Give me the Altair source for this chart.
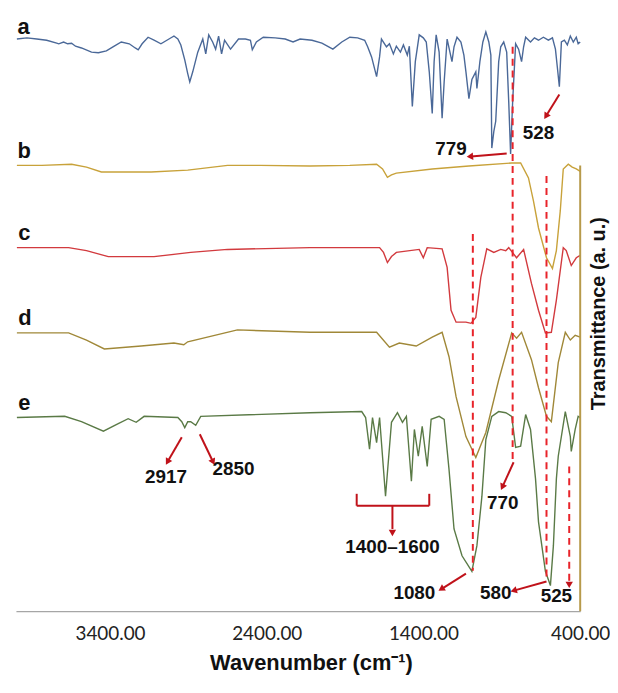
import altair as alt
import pandas as pd

SERIES = ["a", "b", "c", "d", "e"]
COLORS = ["#4A6898", "#C8A23A", "#D23A3E", "#A08838", "#5A7A46"]

# Spectrum a
wn_a = [3994, 3930, 3867, 3804, 3740, 3727, 3696, 3670, 3645, 3620, 3582, 3518, 3474, 3423, 3373, 3328,
        3277, 3239, 3220, 3195, 3157, 3119, 3075, 3037, 3005, 2992, 2967, 2948, 2923, 2904, 2891, 2872,
        2840, 2808, 2789, 2770, 2745, 2726, 2707, 2688, 2669, 2631, 2580, 2536, 2504, 2492, 2466, 2422,
        2346, 2282, 2232, 2187, 2111, 2048, 1978, 1921, 1870, 1820, 1775, 1756, 1731, 1699, 1680, 1668,
        1636, 1617, 1592, 1573, 1547, 1528, 1503, 1490, 1471, 1452, 1427, 1401, 1382, 1363, 1344, 1332,
        1319, 1300, 1281, 1268, 1249, 1218, 1205, 1186, 1161, 1142, 1129, 1110, 1091, 1066, 1059, 1040,
        1021, 1002, 983, 970, 964, 951, 939, 920, 907, 888, 869, 856, 844, 831, 812, 793, 774, 761, 748,
        717, 692, 666, 635, 603, 577, 558, 546, 533, 520, 501, 482, 463, 444, 425, 413, 400]
tr_a = [96.0, 96.2, 96.0, 95.8, 95.3, 95.2, 95.5, 95.2, 95.3, 94.8, 94.5, 93.8, 93.7, 94.0, 94.8, 95.5,
        95.2, 94.5, 94.2, 95.2, 96.3, 95.8, 95.2, 95.8, 96.3, 96.5, 96.0, 95.0, 92.5, 90.2, 88.8, 90.5,
        93.8, 96.0, 93.5, 96.7, 95.5, 94.3, 96.5, 93.5, 95.8, 94.3, 96.0, 96.0, 95.8, 94.2, 95.5, 96.3,
        96.2, 96.0, 95.5, 96.0, 95.8, 95.3, 94.3, 95.5, 96.3, 96.2, 95.8, 94.7, 93.0, 89.7, 93.0, 96.0,
        94.7, 95.2, 93.5, 94.8, 93.8, 95.0, 93.3, 94.8, 84.7, 92.2, 96.7, 96.2, 95.5, 90.5, 83.5, 92.2,
        96.7, 93.8, 82.7, 88.8, 96.0, 92.2, 94.7, 96.3, 95.5, 93.3, 90.5, 86.0, 89.2, 90.5, 87.7, 92.2,
        95.5, 97.2, 95.5, 93.3, 77.7, 80.5, 82.2, 92.2, 94.7, 95.5, 93.8, 85.5, 76.7, 85.5, 95.2, 94.3,
        92.2, 94.7, 96.3, 95.5, 96.2, 95.8, 96.3, 95.8, 96.2, 94.3, 91.3, 88.0, 95.5, 95.8, 95.0, 96.5,
        95.5, 96.3, 95.2, 95.5]

# Spectrum b
wn_b = [3994, 3835, 3645, 3550, 3455, 3138, 2904, 2650, 2441, 2124, 1870, 1699, 1661, 1630, 1604, 1573,
        1344, 1110, 837, 780, 730, 698, 666, 615, 577, 552, 527, 508, 476, 451, 425, 400]
tr_b = [74.8, 74.8, 75.0, 74.5, 73.7, 73.7, 74.0, 74.8, 74.8, 74.7, 74.8, 75.0, 74.2, 72.8, 73.2, 73.5,
        74.2, 74.7, 75.2, 75.2, 72.7, 68.8, 64.3, 59.3, 57.5, 60.5, 67.2, 74.2, 75.0, 74.5, 74.2, 73.8]

# Spectrum c
wn_c = [3994, 3664, 3550, 3411, 3119, 2885, 2650, 2124, 1680, 1655, 1630, 1604, 1573, 1427, 1401, 1376,
        1281, 1249, 1224, 1192, 1129, 1097, 1066, 1034, 996, 951, 907, 875, 856, 806, 761, 711, 666, 622,
        584, 552, 508, 489, 457, 425, 400]
tr_c = [61.0, 61.0, 60.5, 59.5, 59.5, 60.2, 60.7, 61.0, 61.0, 60.2, 58.5, 59.5, 60.2, 60.7, 59.3, 61.0,
        60.8, 57.7, 50.5, 48.5, 48.5, 48.3, 49.3, 56.0, 60.8, 60.2, 60.7, 60.5, 61.0, 59.3, 60.7, 55.0,
        50.5, 46.7, 46.8, 52.2, 61.0, 60.5, 58.0, 59.3, 59.7]

# Spectrum d
wn_d = [3994, 3664, 3550, 3436, 3201, 2992, 2929, 2904, 2587, 2124, 1699, 1617, 1554, 1446, 1344, 1281,
        1237, 1192, 1129, 1066, 1002, 920, 837, 806, 774, 711, 666, 615, 584, 540, 495, 463, 432, 400]
tr_d = [46.7, 46.7, 45.5, 44.0, 44.5, 45.0, 44.7, 45.2, 47.2, 46.8, 46.8, 44.3, 45.0, 44.5, 46.0, 46.8,
        42.7, 36.0, 29.3, 25.8, 30.0, 38.8, 46.7, 45.8, 46.8, 42.2, 37.5, 32.7, 31.8, 41.7, 46.8, 45.5,
        46.3, 46.0]

# Spectrum e
wn_e = [3994, 3689, 3582, 3442, 3360, 3284, 3233, 3182, 2967, 2942, 2923, 2904, 2885, 2853, 2821, 2124,
        1794, 1769, 1744, 1725, 1699, 1680, 1642, 1604, 1566, 1534, 1509, 1477, 1458, 1433, 1408, 1376,
        1351, 1300, 1268, 1237, 1205, 1154, 1091, 1059, 1027, 1002, 964, 920, 875, 837, 812, 780, 748,
        717, 685, 666, 622, 590, 571, 552, 540, 495, 463, 457, 432, 413, 400]
tr_e = [32.5, 32.7, 31.8, 30.2, 31.3, 32.3, 31.7, 32.7, 32.5, 31.8, 30.8, 31.8, 31.8, 31.2, 32.7, 33.3,
        33.5, 32.5, 27.2, 32.5, 28.3, 32.5, 19.3, 31.7, 33.3, 31.7, 32.7, 21.8, 30.5, 26.0, 31.0, 24.3,
        32.2, 32.7, 32.2, 23.8, 13.8, 9.3, 6.7, 11.0, 19.3, 28.8, 32.7, 33.5, 33.3, 32.7, 27.5, 27.7,
        33.0, 30.5, 22.2, 15.0, 6.7, 4.3, 11.0, 22.2, 26.0, 33.5, 29.3, 26.8, 30.5, 32.7, 32.5]

# Dashed guide lines
dash_w = [831, 1085, 615, 470]
dash_top = [94.7, 63.3, 73.0, 24.3]
dash_bottom = [25.0, 6.8, 5.5, 5.0]

# Arrow shafts and bracket segments
seg_w1 = [869, 533, 2942, 2827, 825, 1129, 615, 1826, 1826, 1363, 1598]
seg_v1 = [76.8, 86.7, 29.2, 29.7, 25.0, 6.3, 5.0, 17.7, 19.7, 19.7, 17.7]
seg_w2 = [1097, 615, 3030, 2745, 894, 1281, 818, 1363, 1826, 1363, 1598]
seg_v2 = [76.3, 83.2, 25.2, 25.2, 21.0, 3.8, 3.5, 17.7, 17.7, 17.7, 13.8]

# Arrow heads
head_w = [1097, 615, 3030, 2745, 894, 1281, 818, 1598, 470]
head_v = [76.3, 83.2, 25.2, 25.2, 21.0, 3.8, 3.5, 13.3, 4.6]
head_angle = [265, 212, 210, 154, 205, 238, 254, 180, 180]

# Peak labels
lab_text = ["779", "528", "2917", "2850", "1400\u20131600", "770", "1080", "580", "525"]
lab_w = [1224, 666, 3043, 2612, 1598, 894, 1458, 939, 552]
lab_v = [77.5, 80.2, 22.5, 23.8, 10.7, 18.2, 3.0, 3.0, 2.6]

# Series letters
letter_v = [96.8, 76.0, 62.2, 48.0, 33.8]
letter_w = [3990, 3990, 3985, 3985, 3985]

rows = []
for s, wn, tr in zip(SERIES, [wn_a, wn_b, wn_c, wn_d, wn_e], [tr_a, tr_b, tr_c, tr_d, tr_e]):
    for w, v in zip(wn, tr):
        rows.append({"series": s, "w": w, "v": v})
spectra = pd.DataFrame(rows)

dash_df = pd.DataFrame({"w": dash_w, "w2": dash_w, "v": dash_top, "v2": dash_bottom})
seg_df = pd.DataFrame({"w": seg_w1, "w2": seg_w2, "v": seg_v1, "v2": seg_v2})
head_df = pd.DataFrame({"w": head_w, "v": head_v, "ang": head_angle})
lab_df = pd.DataFrame({"w": lab_w, "v": lab_v, "t": lab_text})
letter_df = pd.DataFrame({"w": letter_w, "v": letter_v, "t": SERIES})
border_df = pd.DataFrame({"w": [400], "w2": [400], "v": [74.8], "v2": [0]})

xs = alt.Scale(domain=[4000, 400], nice=False, zero=False)
ys = alt.Scale(domain=[0, 100], nice=False, zero=False)

xaxis = alt.Axis(values=[3400, 2400, 1400, 400], format=".2f", title="Wavenumber (cm\u207b\u00b9)",
                 grid=False, ticks=False, domainColor="#A6A6A6", domainWidth=1.3,
                 labelFont="Lato", labelFontSize=19, labelColor="#222222", labelPadding=13,
                 labelFlush=False, titleFont="Liberation Sans", titleFontSize=22,
                 titleFontWeight="bold", titleColor="#111111", titlePadding=10,
                 titleX=297, titleAlign="center")
yaxis = alt.Axis(orient="right", title="Transmittance (a. u.)", labels=False, ticks=False,
                 domain=False, grid=False, titleAngle=270, titleBaseline="top",
                 titleFontSize=20, titleFont="Liberation Sans", titleFontWeight="bold",
                 titlePadding=8, titleColor="#111111")

X = alt.X("w:Q", scale=xs, axis=xaxis)
Y = alt.Y("v:Q", scale=ys, axis=yaxis)

lines = alt.Chart(spectra).mark_line(strokeWidth=1.4).encode(
    x=X, y=Y,
    color=alt.Color("series:N", scale=alt.Scale(domain=SERIES, range=COLORS), legend=None),
    detail="series:N",
)

border = alt.Chart(border_df).mark_rule(color="#B79A4B", strokeWidth=2).encode(
    x=X, y=Y, x2="w2:Q", y2="v2:Q")

dashes = alt.Chart(dash_df).mark_rule(color="#E8232A", strokeWidth=2, strokeDash=[7, 5]).encode(
    x=X, y=Y, x2="w2:Q", y2="v2:Q")

segs = alt.Chart(seg_df).mark_rule(color="#C0121A", strokeWidth=2).encode(
    x=X, y=Y, x2="w2:Q", y2="v2:Q")

heads = alt.Chart(head_df).mark_point(shape="triangle", filled=True, size=55, color="#C0121A",
                                      opacity=1).encode(
    x=X, y=Y, angle=alt.Angle("ang:Q", scale=None))

labels = alt.Chart(lab_df).mark_text(font="Liberation Sans", fontWeight="bold", fontSize=19,
                                     color="#111111", align="center", baseline="middle").encode(
    x=X, y=Y, text="t:N")

letters = alt.Chart(letter_df).mark_text(font="Liberation Sans", fontWeight="bold", fontSize=22,
                                         color="#111111", align="left",
                                         baseline="alphabetic").encode(
    x=X, y=Y, text="t:N")

chart = alt.layer(lines, border, dashes, segs, heads, labels, letters).properties(
    width=568, height=600,
    padding={"left": 6, "top": 5, "right": 0, "bottom": 5},
).configure_view(stroke=None)

chart.save("out.html", embed_options={"renderer": "svg", "actions": False})
